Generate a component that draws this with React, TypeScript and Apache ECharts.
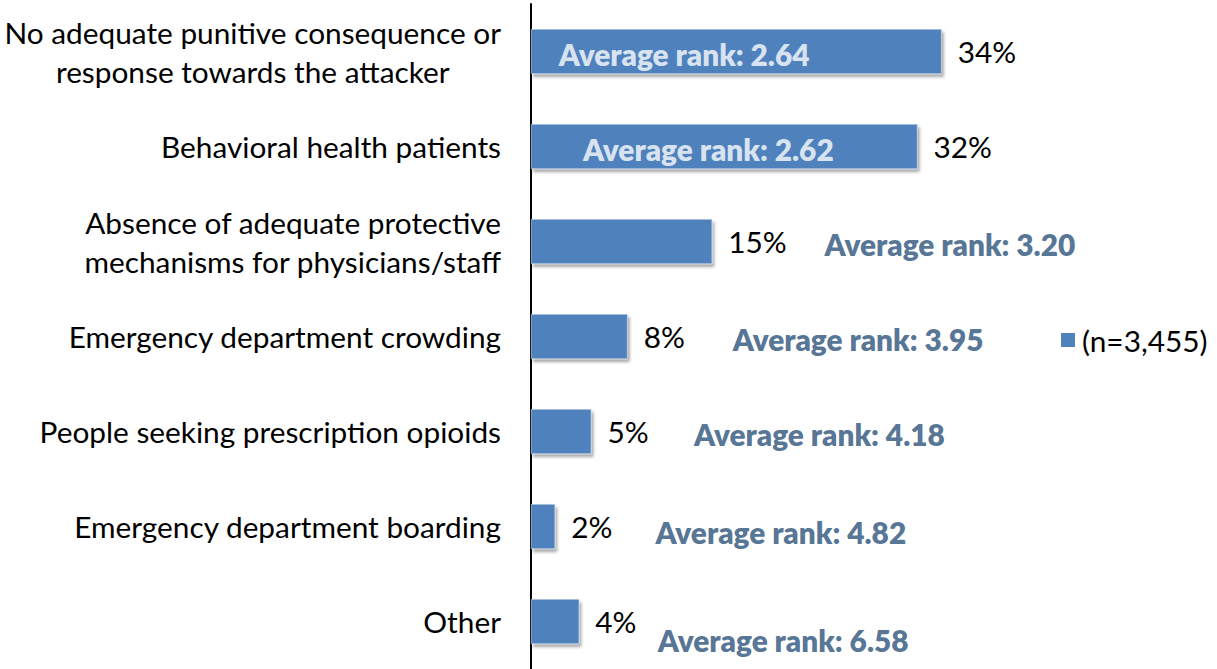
import React, { useEffect, useRef } from "react";
import * as echarts from "echarts";

const categories = [
  "No adequate punitive consequence or\nresponse towards the attacker",
  "Behavioral health patients",
  "Absence of adequate protective\nmechanisms for physicians/staff",
  "Emergency department crowding",
  "People seeking prescription opioids",
  "Emergency department boarding",
  "Other",
];
const percentValues = [34, 32, 15, 8, 5, 2, 4];
const averageRanks = ["2.64", "2.62", "3.20", "3.95", "4.18", "4.82", "6.58"];
const seriesName = "(n=3,455)";

// layout of the "Average rank" annotations: [x in axis units, vertical pixel offset, inside bar]
const rankLabelPos: [number, number, boolean][] = [
  [2.3, 3, true],
  [4.3, 3, true],
  [24.3, 3, false],
  [16.7, 3, false],
  [13.5, 3, false],
  [10.3, 6, false],
  [10.5, 19, false],
];

const FONT = "Lato";
const FS = 29.8;

export default function App() {
  const ref = useRef<HTMLDivElement>(null);
  useEffect(() => {
    const chart = echarts.init(ref.current!, null, { renderer: "svg" });
    chart.setOption({
      animation: false,
      textStyle: { fontFamily: FONT },
      legend: {
        data: [{ name: seriesName, itemStyle: { color: "#4F81BD", borderWidth: 0, shadowBlur: 0, shadowOffsetX: 0, shadowOffsetY: 0 } }],
        left: 1061,
        top: 325,
        padding: 0,
        icon: "rect",
        itemWidth: 14,
        itemHeight: 14,
        textStyle: { fontSize: FS, color: "#000", fontFamily: FONT, padding: [0, 0, 0, 2] },
      },
      grid: { left: 531, top: 4, width: 604, height: 670 },
      xAxis: {
        type: "value",
        min: 0,
        max: 50,
        show: false,
      },
      yAxis: {
        type: "category",
        data: categories,
        inverse: true,
        axisLine: { show: true, lineStyle: { color: "#000", width: 2 } },
        axisTick: { show: false },
        axisLabel: {
          margin: 30,
          fontSize: FS,
          lineHeight: 39,
          color: "#000",
          fontFamily: FONT,
          formatter: (v: string, i: number) =>
            i === 0 ? v.split("\n").map((s) => `{c|${s}}`).join("\n") : v,
          rich: {
            c: { align: "center", fontSize: FS, lineHeight: 39, color: "#000", fontFamily: FONT },
          },
        },
      },
      series: [
        {
          name: seriesName,
          type: "bar",
          barWidth: 45,
          data: percentValues,
          itemStyle: {
            color: "#4F81BD",
            borderColor: "#D6E0EC",
            borderWidth: 0.6,
            shadowBlur: 3,
            shadowColor: "rgba(0,0,0,0.35)",
            shadowOffsetX: 2,
            shadowOffsetY: 3,
          },
          label: {
            show: true,
            position: "right",
            distance: 16,
            formatter: "{c}%",
            fontSize: FS,
            color: "#000",
            fontFamily: FONT,
          },
        },
        {
          name: "rank",
          type: "scatter",
          symbolSize: 0,
          z: 5,
          data: averageRanks.map((r, i) => ({
            value: [rankLabelPos[i][0], i],
            label: {
              show: true,
              position: "right",
              distance: 0,
              offset: [0, rankLabelPos[i][1]],
              formatter: `Average rank: ${r}`,
              fontSize: FS,
              fontWeight: 800,
              fontFamily: FONT,
              color: rankLabelPos[i][2] ? "#FFFFFF" : "#2A5079",
            },
          })),
        },
      ],
    });
    return () => chart.dispose();
  }, []);
  return (
    <div
      ref={ref}
      style={{ position: "absolute", left: 0, top: 0, width: 1217, height: 669 }}
    />
  );
}
